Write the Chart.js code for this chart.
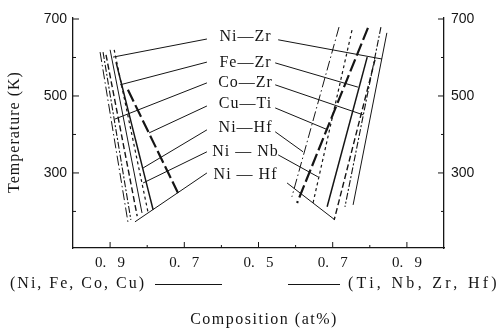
<!DOCTYPE html>
<html><head><meta charset="utf-8">
<script src="https://cdn.jsdelivr.net/npm/chart.js@4/dist/chart.umd.min.js"></script>
<style>html,body{margin:0;padding:0;background:#fff;} #wrap{width:498px;height:332px;}</style>
</head><body><div id="wrap"><canvas id="c" width="498" height="332"></canvas></div>
<script>
// ---- data (composition fraction of B measured from left edge, temperature K) ----
const systems = ['Ni—Zr','Fe—Zr','Co—Zr','Cu—Ti','Ni—Hf','Ni — Nb','Ni — Hf'];
const labelT = [653, 586, 534, 479, 417, 355, 295];
// A-rich (left) boundary lines
const leftTopX = [0.100, 0.116, 0.081, 0.148, 0.073, 0.111, 0.089];
const leftTopT = [620, 588, 614, 516, 614, 620, 607];
const leftBotX = [0.186, 0.216, 0.156, 0.283, 0.148, 0.202, 0.173];
const leftBotT = [196, 204, 178, 248, 173, 199, 188];
// B-rich (right) boundary lines
const rightTopX = [0.846, 0.793, 0.830, 0.795, 0.717, 0.752, 0.814];
const rightTopT = [664, 601, 679, 677, 679, 671, 594];
const rightBotX = [0.755, 0.685, 0.733, 0.604, 0.590, 0.647, 0.704];
const rightBotT = [217, 212, 212, 222, 238, 222, 178];
// leader lines: label end -> curve
const leftLeadStartX = [0.361, 0.361, 0.361, 0.361, 0.361, 0.361, 0.361];
const leftLeadStartT = [648, 588, 534, 474, 412, 355, 300];
const leftLeadX = [0.108, 0.127, 0.113, 0.205, 0.189, 0.189, 0.167];
const leftLeadT = [601, 529, 440, 404, 313, 274, 173];
const rightLeadStartX = [0.553, 0.545, 0.545, 0.545, 0.545, 0.553, 0.577];
const rightLeadStartT = [646, 586, 529, 469, 407, 347, 274];
const rightLeadX = [0.833, 0.768, 0.782, 0.687, 0.620, 0.660, 0.706];
const rightLeadT = [596, 523, 451, 412, 355, 290, 178];
// axes
const xTickValues = [0.1, 0.3, 0.5, 0.7, 0.9];
const xTickText = ['0.\u2002 9', '0.\u2002 7', '0.\u2002 5', '0.\u2002 7', '0.\u2002 9'];
const xMinorValues = [0.2, 0.4, 0.6, 0.8];
const yTickValues = [300, 500, 700];
const yMinorValues = [200, 400, 600];

// ---- styles ----
const INK = '#151515';
const lineStyles = [
  {w: 1.0, dash: []},
  {w: 1.5, dash: []},
  {w: 1.1, dash: [7, 2, 2, 2]},
  {w: 2.2, dash: [13, 4]},
  {w: 1.0, dash: [10, 3, 1.5, 3]},
  {w: 1.2, dash: [3, 3]},
  {w: 1.4, dash: [6, 3]}
];

const datasets = [];
systems.forEach((s, i) => {
  const st = lineStyles[i];
  datasets.push({data: [{x: leftTopX[i], y: leftTopT[i]}, {x: leftBotX[i], y: leftBotT[i]}],
    borderWidth: st.w, borderDash: st.dash, borderColor: INK});
  datasets.push({data: [{x: rightTopX[i], y: rightTopT[i]}, {x: rightBotX[i], y: rightBotT[i]}],
    borderWidth: st.w, borderDash: st.dash, borderColor: INK});
  datasets.push({data: [{x: leftLeadStartX[i], y: leftLeadStartT[i]}, {x: leftLeadX[i], y: leftLeadT[i]}],
    borderWidth: 1, borderColor: INK});
  datasets.push({data: [{x: rightLeadStartX[i], y: rightLeadStartT[i]}, {x: rightLeadX[i], y: rightLeadT[i]}],
    borderWidth: 1, borderColor: INK});
});
datasets.forEach(d => { d.showLine = true; d.pointRadius = 0; d.fill = false; d.yAxisID = 'y'; });

const SERIF = '"Liberation Serif", "DejaVu Serif", serif';
const SANS = '"Liberation Sans", Arial, sans-serif';

const overlay = {
  id: 'overlay',
  afterDraw(chart) {
    const {ctx, chartArea: a, scales} = chart;
    const xs = scales.x, ys = scales.y;
    ctx.save();
    ctx.strokeStyle = INK; ctx.lineWidth = 1; ctx.setLineDash([]);
    ctx.beginPath();
    yTickValues.forEach(v => { const p = ys.getPixelForValue(v);
      ctx.moveTo(a.left, p); ctx.lineTo(a.left + 6, p);
      ctx.moveTo(a.right, p); ctx.lineTo(a.right - 6, p); });
    yMinorValues.forEach(v => { const p = ys.getPixelForValue(v);
      ctx.moveTo(a.left, p); ctx.lineTo(a.left + 3, p);
      ctx.moveTo(a.right, p); ctx.lineTo(a.right - 3, p); });
    xTickValues.forEach(v => { const p = xs.getPixelForValue(v);
      ctx.moveTo(p, a.bottom); ctx.lineTo(p, a.bottom - 6); });
    xMinorValues.forEach(v => { const p = xs.getPixelForValue(v);
      ctx.moveTo(p, a.bottom); ctx.lineTo(p, a.bottom - 3); });
    ctx.stroke();

    ctx.fillStyle = INK;
    ctx.textBaseline = 'middle';
    ctx.textAlign = 'center';
    ctx.font = '16px ' + SERIF;
    ctx.letterSpacing = '1px';
    systems.forEach((s, i) => {
      ctx.fillText(s, xs.getPixelForValue(0.465), ys.getPixelForValue(labelT[i]));
    });

    // y title
    ctx.save();
    ctx.translate(15, 132);
    ctx.rotate(-Math.PI / 2);
    ctx.font = '16px ' + SERIF;
    ctx.letterSpacing = '1px';
    ctx.fillText('Temperature (K)', 0, 0);
    ctx.restore();

    // bottom legend texts
    ctx.font = '16px ' + SERIF;
    ctx.letterSpacing = '2px';
    ctx.textAlign = 'left';
    ctx.fillText('(Ni, Fe, Co, Cu)', 10, 284);
    ctx.letterSpacing = '3.3px';
    ctx.textAlign = 'right';
    ctx.fillText('(Ti, Nb, Zr, Hf)', 500, 284);
    ctx.letterSpacing = '1.5px';
    ctx.textAlign = 'center';
    ctx.fillText('Composition (at%)', 264, 320);
    ctx.beginPath();
    ctx.moveTo(155, 284.5); ctx.lineTo(222, 284.5);
    ctx.moveTo(288, 284.5); ctx.lineTo(340, 284.5);
    ctx.stroke();
    ctx.restore();
  }
};

new Chart(document.getElementById('c'), {
  type: 'scatter',
  data: {datasets},
  options: {
    responsive: false, animation: false, devicePixelRatio: 1,
    layout: {padding: {top: 18, left: 0, right: 0, bottom: 0}},
    plugins: {legend: {display: false}, tooltip: {enabled: false}},
    scales: {
      x: {type: 'linear', min: 0, max: 1, position: 'bottom',
        grid: {display: false, drawTicks: false},
        border: {display: true, color: INK, width: 1.3},
        afterBuildTicks: s => { s.ticks = xTickValues.map(v => ({value: v})); },
        ticks: {autoSkip: false, maxRotation: 0, padding: 6, color: INK,
          font: {family: SERIF, size: 15},
          callback: (v) => { const k = xTickValues.findIndex(t => Math.abs(t - v) < 1e-6); return k >= 0 ? xTickText[k] : ''; }},
        afterFit: s => { s.height = 84; }
      },
      y: {type: 'linear', min: 105, max: 702.6, position: 'left',
        grid: {display: false, drawTicks: false},
        border: {display: true, color: INK, width: 1.3},
        afterBuildTicks: s => { s.ticks = yTickValues.map(v => ({value: v})); },
        ticks: {padding: 6, color: INK, font: {family: SANS, size: 14}},
        afterFit: s => { s.width = 73; }
      },
      y2: {type: 'linear', min: 105, max: 702.6, position: 'right',
        grid: {display: false, drawTicks: false},
        border: {display: true, color: INK, width: 1.3},
        afterBuildTicks: s => { s.ticks = yTickValues.map(v => ({value: v})); },
        ticks: {padding: 7, color: INK, font: {family: SANS, size: 14}},
        afterFit: s => { s.width = 54; }
      }
    }
  },
  plugins: [overlay]
});
</script></body></html>
